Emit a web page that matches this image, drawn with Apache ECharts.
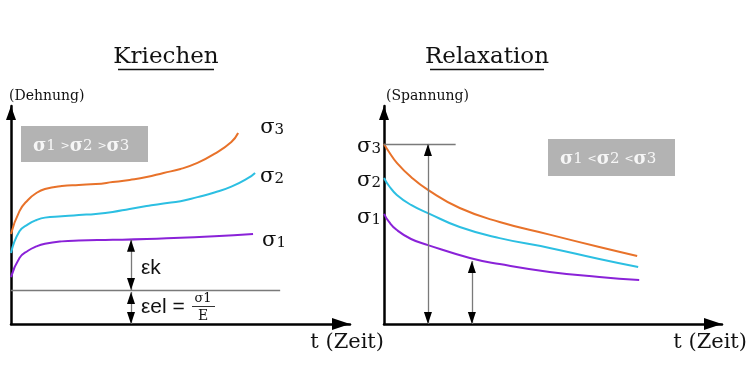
<!DOCTYPE html>
<html>
<head>
<meta charset="utf-8">
<script src="https://cdn.jsdelivr.net/npm/echarts@6/dist/echarts.min.js"></script>
<style>html,body{margin:0;padding:0;background:#fff;}#c{width:750px;height:390px;}</style>
</head>
<body>
<div id="c"></div>
<script>
// ---------- DATA (time t and value in arbitrary units 0..100) ----------
// Kriechen (creep): strain vs time
const kriechenT3 = [0, 2.5, 5, 7.5, 10, 15, 20, 25, 30, 35, 40, 45, 50, 55, 60, 65, 67];
const kriechenE3 = [41.3, 51.8, 56.9, 60.1, 61.9, 63.3, 63.8, 64.2, 65.1, 66.1, 67.4, 69.3, 71.1, 73.9, 78.0, 83.5, 87.6];
const kriechenT2 = [0, 2.5, 5, 7.5, 10, 15, 20, 25, 30, 35, 40, 45, 50, 55, 60, 65, 70, 72];
const kriechenE2 = [32.6, 42.5, 45.7, 47.7, 48.8, 49.4, 50.0, 50.5, 51.4, 52.8, 54.1, 55.3, 56.3, 58.2, 60.3, 63.0, 67.0, 69.3];
const kriechenT1 = [0, 2.5, 5, 7.5, 10, 15, 20, 30, 40, 50, 60, 71.4];
const kriechenE1 = [21.5, 30.3, 33.6, 35.6, 36.8, 37.9, 38.3, 38.6, 39.0, 39.6, 40.2, 41.3];
// Relaxation: stress vs time
const relaxT3 = [0, 1.5, 3.8, 8, 13, 22.4, 34.2, 49, 63.7, 74.9];
const relaxS3 = [82.6, 78.9, 73.9, 67.4, 61.5, 53.2, 46.8, 41.0, 35.3, 31.2];
const relaxT2 = [0, 1.5, 3.8, 8, 13, 22.4, 34.2, 49, 63.7, 75.2];
const relaxS2 = [67.0, 63.3, 59.2, 54.6, 50.9, 44.5, 39.4, 34.9, 29.8, 26.1];
const relaxT1 = [0, 1.5, 3.8, 8, 13, 25.4, 34.2, 49, 63.7, 75.5];
const relaxS1 = [50.5, 46.8, 43.1, 39.0, 36.2, 30.3, 27.5, 23.9, 21.6, 20.2];
// annotation values
const kriechenElastic = [15.6, 79.4];      // elastic strain level, end time of reference line
const kriechenArrow = [35.4, 38.7, 14.7];  // time, top of εk, top of εel
const relaxLevel = [82.6, 21.2];           // σ3 level, end time of reference line
const relaxArrows = [13, 26];              // times of the two arrows
const relaxArrowTops = [82.6, 28.9];
const labels3 = ['σ', '3'], labels2 = ['σ', '2'], labels1 = ['σ', '1'];

// ---------- CHART ----------
const chart = echarts.init(document.getElementById('c'), null, {renderer: 'canvas'});
const zip = (a, b) => a.map((v, i) => [v, b[i]]);
const SERIF = 'DejaVu Serif';
const C3 = '#e8722a', C2 = '#2cbfe2', C1 = '#8a22d8';
const GRAY = '#7a7a7a';
const HEAD = [8, 12];
const INSET = 6 * 100 / 218; // half arrowhead height in value units

function axisX(grid, gap) {
  return {
    type: 'value', gridIndex: grid, min: 0, max: 100,
    axisLine: {show: true, onZero: false, lineStyle: {color: '#000', width: 2.5},
      symbol: ['none', 'triangle'], symbolSize: [12, 18], symbolOffset: [0, -9]},
    axisTick: {show: false}, axisLabel: {show: false}, splitLine: {show: false},
    name: 't (Zeit)', nameLocation: 'end', nameGap: gap,
    nameTextStyle: {fontFamily: SERIF, fontSize: 21, color: '#111', align: 'right', verticalAlign: 'top', padding: [8, 0, 0, 0]}
  };
}
function axisY(grid, name, pad) {
  return {
    type: 'value', gridIndex: grid, min: 0, max: 100,
    axisLine: {show: true, onZero: false, lineStyle: {color: '#000', width: 2.5},
      symbol: ['none', 'triangle'], symbolSize: [10, 14], symbolOffset: [0, -7]},
    axisTick: {show: false}, axisLabel: {show: false}, splitLine: {show: false},
    name: name, nameLocation: 'end', nameGap: 3,
    nameTextStyle: {fontFamily: SERIF, fontSize: 14, color: '#111', align: 'left', verticalAlign: 'bottom', padding: [0, 0, 0, pad]}
  };
}
function sigmaLabel(parts, pos, dist, off) {
  return {
    show: true, position: pos, distance: dist, offset: off,
    formatter: '{s|' + parts[0] + '}{d|' + parts[1] + '}',
    rich: {
      s: {fontFamily: SERIF, fontSize: 21, color: '#111', verticalAlign: 'bottom', lineHeight: 22},
      d: {fontFamily: SERIF, fontSize: 15, color: '#111', verticalAlign: 'bottom', lineHeight: 22}
    }
  };
}
function mp(coord, label) {
  return {symbol: 'circle', symbolSize: 0, silent: true, itemStyle: {color: 'rgba(0,0,0,0)'},
    label: label, data: [{coord: coord}]};
}
function plainLine(a, b) {
  return [{coord: a, symbol: 'none', lineStyle: {color: GRAY, width: 1.3, type: 'solid'}}, {coord: b, symbol: 'none'}];
}
function heads(t, v0, v1) {
  return [{coord: [t, v0 + INSET], symbol: 'triangle', symbolSize: HEAD, lineStyle: {color: '#000', width: 0, type: 'solid'}},
          {coord: [t, v1 - INSET], symbol: 'triangle', symbolSize: HEAD}];
}
function lineSeries(name, x, y, t, v, color, extra) {
  return Object.assign({
    name: name, type: 'line', xAxisIndex: x, yAxisIndex: y, data: zip(t, v),
    smooth: 0.5, symbol: 'none', clip: false,
    lineStyle: {color: color, width: 2}, itemStyle: {color: color}, z: 3
  }, extra || {});
}

const kEl = kriechenElastic[0];
const series = [
  lineSeries('Kriechen σ3', 0, 0, kriechenT3, kriechenE3, C3, {
    markPoint: mp([kriechenT3[kriechenT3.length - 1], kriechenE3[kriechenE3.length - 1]], sigmaLabel(labels3, 'right', 22, [0, -6]))
  }),
  lineSeries('Kriechen σ2', 0, 0, kriechenT2, kriechenE2, C2, {
    markPoint: mp([kriechenT2[kriechenT2.length - 1], kriechenE2[kriechenE2.length - 1]], sigmaLabel(labels2, 'right', 5, [0, 3]))
  }),
  lineSeries('Kriechen σ1', 0, 0, kriechenT1, kriechenE1, C1, {
    markPoint: mp([kriechenT1[kriechenT1.length - 1], kriechenE1[kriechenE1.length - 1]], sigmaLabel(labels1, 'right', 9, [0, 6])),
    markLine: {
      silent: true, animation: false, label: {show: false}, symbol: ['none', 'none'],
      data: [
        plainLine([0, kEl], [kriechenElastic[1], kEl]),
        plainLine([kriechenArrow[0], kEl], [kriechenArrow[0], kriechenArrow[1]]),
        plainLine([kriechenArrow[0], 0], [kriechenArrow[0], kriechenArrow[2]]),
        heads(kriechenArrow[0], kEl, kriechenArrow[1]),
        heads(kriechenArrow[0], 0, kriechenArrow[2])
      ]
    }
  }),
  lineSeries('Relaxation σ3', 1, 1, relaxT3, relaxS3, C3, {
    markPoint: mp([relaxT3[0], relaxS3[0]], sigmaLabel(labels3, 'left', 3, [0, 2]))
  }),
  lineSeries('Relaxation σ2', 1, 1, relaxT2, relaxS2, C2, {
    markPoint: mp([relaxT2[0], relaxS2[0]], sigmaLabel(labels2, 'left', 3, [0, 2]))
  }),
  lineSeries('Relaxation σ1', 1, 1, relaxT1, relaxS1, C1, {
    markPoint: mp([relaxT1[0], relaxS1[0]], sigmaLabel(labels1, 'left', 3, [0, 3])),
    markLine: {
      silent: true, animation: false, label: {show: false}, symbol: ['none', 'none'],
      data: [
        plainLine([0, relaxLevel[0]], [relaxLevel[1], relaxLevel[0]]),
        plainLine([relaxArrows[0], 0], [relaxArrows[0], relaxArrowTops[0]]),
        plainLine([relaxArrows[1], 0], [relaxArrows[1], relaxArrowTops[1]]),
        heads(relaxArrows[0], 0, relaxArrowTops[0]),
        heads(relaxArrows[1], 0, relaxArrowTops[1])
      ]
    }
  })
];

const boxRich = {
  s: {fontFamily: SERIF, fontWeight: 'bold', fontSize: 18, fill: '#f6f6f6'},
  d: {fontFamily: SERIF, fontSize: 15, fill: '#f6f6f6'},
  g: {fontFamily: SERIF, fontSize: 11, fill: '#f6f6f6'}
};
const graphic = [
  {type: 'text', x: 166, y: 57, style: {text: 'Kriechen', font: '23px "DejaVu Serif"', fill: '#111', align: 'center', verticalAlign: 'middle'}},
  {type: 'line', shape: {x1: 118, y1: 69.5, x2: 214, y2: 69.5}, style: {stroke: '#111', lineWidth: 1.5}},
  {type: 'text', x: 487, y: 57, style: {text: 'Relaxation', font: '23px "DejaVu Serif"', fill: '#111', align: 'center', verticalAlign: 'middle'}},
  {type: 'line', shape: {x1: 430, y1: 69.5, x2: 544, y2: 69.5}, style: {stroke: '#111', lineWidth: 1.5}},
  {type: 'rect', shape: {x: 21, y: 126, width: 127, height: 36}, style: {fill: '#b3b3b3'}},
  {type: 'text', x: 33, y: 146, style: {text: '{s|σ}{d|1 }{g|>}{s|σ}{d|2 }{g|>}{s|σ}{d|3}', rich: boxRich, verticalAlign: 'middle', align: 'left'}},
  {type: 'rect', shape: {x: 548, y: 139, width: 127, height: 37}, style: {fill: '#b3b3b3'}},
  {type: 'text', x: 560, y: 159, style: {text: '{s|σ}{d|1 }{g|<}{s|σ}{d|2 }{g|<}{s|σ}{d|3}', rich: boxRich, verticalAlign: 'middle', align: 'left'}},
  {type: 'text', x: 141, y: 268, style: {text: 'εk', font: '21px "Liberation Sans"', fill: '#111', verticalAlign: 'middle'}},
  {type: 'text', x: 141, y: 307, style: {text: 'εel =', font: '21px "Liberation Sans"', fill: '#111', verticalAlign: 'middle'}},
  {type: 'text', x: 203, y: 299, style: {text: 'σ1', font: '13px "DejaVu Serif"', fill: '#111', align: 'center', verticalAlign: 'middle'}},
  {type: 'line', shape: {x1: 192, y1: 306.5, x2: 215, y2: 306.5}, style: {stroke: '#333', lineWidth: 1}},
  {type: 'text', x: 203, y: 316, style: {text: 'E', font: '14px "DejaVu Serif"', fill: '#111', align: 'center', verticalAlign: 'middle'}}
];

chart.setOption({
  animation: false,
  backgroundColor: '#ffffff',
  grid: [
    {left: 11, top: 106, width: 339, height: 218},
    {left: 384, top: 106, width: 339, height: 218}
  ],
  xAxis: [axisX(0, 34), axisX(1, 25)],
  yAxis: [axisY(0, '(Dehnung)', -2), axisY(1, '(Spannung)', 2)],
  series: series,
  graphic: graphic
});
</script>
</body>
</html>
